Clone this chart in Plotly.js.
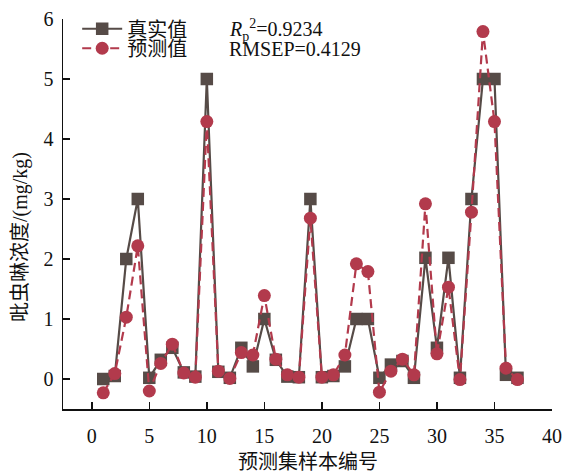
<!DOCTYPE html>
<html>
<head>
<meta charset="utf-8">
<script src="https://cdn.plot.ly/plotly-3.0.1.min.js"></script>
<style>html,body{margin:0;padding:0;background:#fff;}#chart{width:564px;height:473px;}</style>
</head>
<body>
<div id="chart"></div>
<script>
var sampleIndex = [1,2,3,4,5,6,7,8,9,10,11,12,13,14,15,16,17,18,19,20,21,22,23,24,25,26,27,28,29,30,31,32,33,34,35,36,37];
var actualValues = [0.00,0.05,2.00,3.00,0.02,0.32,0.52,0.11,0.04,5.00,0.12,0.02,0.52,0.21,1.00,0.32,0.04,0.03,3.00,0.03,0.05,0.21,1.00,1.00,0.02,0.24,0.30,0.02,2.02,0.52,2.02,0.02,3.00,5.00,5.00,0.07,0.02];
var predictedValues = [-0.23,0.09,1.03,2.22,-0.20,0.26,0.58,0.10,0.03,4.29,0.13,0.01,0.44,0.40,1.39,0.33,0.07,0.03,2.68,0.03,0.07,0.40,1.92,1.79,-0.22,0.13,0.33,0.07,2.92,0.42,1.53,-0.01,2.78,5.79,4.29,0.18,-0.01];
var xTicks = [0,5,10,15,20,25,30,35,40];
var yTicks = [0,1,2,3,4,5,6];

var FONT = "'Liberation Serif', 'Times New Roman', 'Noto Sans CJK SC', serif";
var dark = '#564b47';
var red = '#b23a4c';

var traces = [
  {
    x: sampleIndex, y: actualValues, name: '真实值', type: 'scatter', mode: 'lines+markers',
    legend: 'legend',
    line: {color: dark, width: 2.2},
    marker: {symbol: 'square', size: 12.5, color: dark}
  },
  {
    x: sampleIndex, y: predictedValues, name: '预测值', type: 'scatter', mode: 'lines+markers',
    legend: 'legend2',
    line: {color: red, width: 2.2, dash: '9px,5px'},
    marker: {symbol: 'circle', size: 13, color: red}
  }
];

var legendBase = {
  xanchor: 'left', yanchor: 'middle',
  bgcolor: 'rgba(0,0,0,0)', font: {family: FONT, size: 20, color: '#111'},
  itemwidth: 40
};

var layout = {
  width: 564, height: 473,
  margin: {l: 63, r: 12, t: 19, b: 64, autoexpand: false},
  paper_bgcolor: '#fff', plot_bgcolor: '#fff',
  font: {family: FONT, size: 20, color: '#111'},
  showlegend: true,
  legend: Object.assign({}, legendBase, {x: 0.029, y: 0.975}),
  legend2: Object.assign({}, legendBase, {x: 0.029, y: 0.925}),
  xaxis: {
    range: [-2.5, 40], tickvals: xTicks, ticktext: xTicks.map(String),
    ticks: 'inside', ticklen: 7, tickwidth: 1.5, tickcolor: '#111',
    showline: true, linecolor: '#111', linewidth: 1.5, mirror: false,
    showgrid: false, zeroline: false, ticklabelstandoff: 8,
    tickfont: {family: FONT, size: 20, color: '#111'}
  },
  yaxis: {
    range: [-0.5, 6], tickvals: yTicks, ticktext: yTicks.map(String),
    ticks: 'inside', ticklen: 7, tickwidth: 1.5, tickcolor: '#111',
    showline: true, linecolor: '#111', linewidth: 1.5, mirror: false,
    showgrid: false, zeroline: false, ticklabelstandoff: 4,
    tickfont: {family: FONT, size: 20, color: '#111'}
  },
  annotations: [
    {xref: 'paper', yref: 'paper', x: 0.335, y: 0.972, xanchor: 'left', yanchor: 'middle', showarrow: false,
     text: '<i>R</i><sub>p</sub><sup>2</sup>=0.9234', font: {family: FONT, size: 20, color: '#111'}},
    {xref: 'paper', yref: 'paper', x: 0.335, y: 0.922, xanchor: 'left', yanchor: 'middle', showarrow: false,
     text: 'RMSEP=0.4129', font: {family: FONT, size: 20, color: '#111'}},
    {xref: 'paper', yref: 'paper', x: 0.501, y: -0.136, xanchor: 'center', yanchor: 'middle', showarrow: false,
     text: '预测集样本编号', font: {family: FONT, size: 20, color: '#111'}},
    {xref: 'paper', yref: 'paper', x: -0.088, y: 0.441, xanchor: 'center', yanchor: 'middle', showarrow: false,
     textangle: -90, text: '吡虫啉浓度/(mg/kg)', font: {family: FONT, size: 20, color: '#111'}}
  ]
};

Plotly.newPlot('chart', traces, layout, {displayModeBar: false, staticPlot: true});
</script>
</body>
</html>
